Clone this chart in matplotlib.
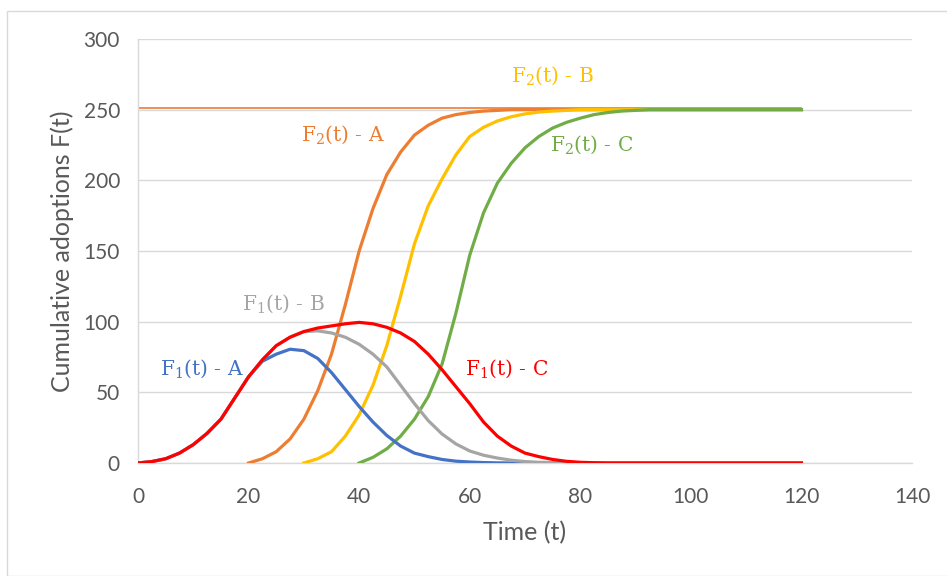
import matplotlib
matplotlib.use("Agg")
import matplotlib.pyplot as plt
import numpy as np
from matplotlib.patches import Rectangle

# ---- data ----
t = [0, 2.5, 5, 7.5, 10, 12.5, 15, 17.5, 20, 22.5, 25, 27.5, 30, 32.5, 35, 37.5, 40,
     42.5, 45, 47.5, 50, 52.5, 55, 57.5, 60, 62.5, 65, 67.5, 70, 72.5, 75, 77.5, 80,
     82.5, 85, 87.5, 90, 92.5, 95, 97.5, 100, 102.5, 105, 107.5, 110, 112.5, 115, 117.5, 120]
N = None
f1_a = ([0, 1, 3, 7, 13, 21, 31, 46, 61, 72, 77, 80.5, 79.5, 74, 64, 52, 40, 29, 19.5, 12,
         7, 4.5, 2.5, 1.3, 0.7, 0.3, 0.1] + [0] * 22)
f1_b = ([0, 1, 3, 7, 13, 21, 31, 46, 61, 73, 83, 89, 93, 93.5, 92, 89, 84, 77, 68, 55,
         42, 30, 20.5, 13.5, 8.5, 5.5, 3.5, 2, 1, 0.5, 0.3, 0.1] + [0] * 17)
f1_c = ([0, 1, 3, 7, 13, 21, 31, 46, 61, 73, 83, 89, 93, 95.5, 97, 98.5, 99.5, 98.5, 96, 92,
         86, 77, 66, 54, 42, 29, 19, 12, 7, 4.5, 2.5, 1.2, 0.5, 0.2, 0] + [0] * 14)
f2_a = ([N] * 8 + [0, 3, 8, 17, 31, 51, 77, 112, 150, 180, 204, 220, 232, 239, 244, 246.5,
                   248, 249, 249.5] + [250] * 22)
f2_b = ([N] * 12 + [0, 3, 8, 19, 34, 55, 83, 118, 155, 182, 201, 218, 231, 237.5, 242, 245,
                    247, 248.3, 249, 249.5] + [250] * 17)
f2_c = ([N] * 16 + [0, 4, 10, 19, 31, 47, 70, 106, 147, 177, 198, 212, 223, 231, 237, 241,
                    244, 246.5, 248, 249, 249.5] + [250] * 12)
m_line_t = [0, 120]
m_line_v = [251, 251]

x_ticks = [0, 20, 40, 60, 80, 100, 120, 140]
y_ticks = [0, 50, 100, 150, 200, 250, 300]

labels = ["F$_1$(t) - A", "F$_1$(t) - B", "F$_1$(t) - C",
          "F$_2$(t) - A", "F$_2$(t) - B", "F$_2$(t) - C"]
label_pos = [(11.6, 66.5), (26.2, 113), (66.6, 66.5), (37.1, 232), (74.9, 274), (82.1, 225)]

c_blue, c_gray, c_red = "#4472C4", "#A5A5A5", "#FF0000"
c_orange, c_gold, c_green = "#ED7D31", "#FFC000", "#70AD47"

plt.rcParams["mathtext.fontset"] = "custom"
plt.rcParams["mathtext.rm"] = "DejaVu Serif"
plt.rcParams["mathtext.it"] = "DejaVu Serif"
plt.rcParams["mathtext.default"] = "regular"


def arr(v):
    return np.array([np.nan if x is None else x for x in v], dtype=float)


W, H = 947, 576
fig = plt.figure(figsize=(W / 100, H / 100), dpi=100)
fig.patches.append(Rectangle((7 / W, 0), 1.2, 1 - 11 / H, transform=fig.transFigure,
                             fill=False, edgecolor="#D9D9D9", lw=1.0))
ax = fig.add_axes([138 / W, 1 - 463 / H, (912 - 138) / W, (463 - 39) / H])

ax.set_xlim(0, 140)
ax.set_ylim(0, 300)
ax.set_xticks(x_ticks)
ax.set_yticks(y_ticks)
ax.grid(axis="y", color="#D9D9D9", lw=1.0)
ax.set_axisbelow(True)
for s in ["top", "right"]:
    ax.spines[s].set_visible(False)
for s in ["left", "bottom"]:
    ax.spines[s].set_color("#D9D9D9")
    ax.spines[s].set_linewidth(1.0)
ax.tick_params(length=0, labelsize=15, colors="#595959")
ax.tick_params(axis="y", pad=13)
ax.tick_params(axis="x", pad=17)
for lab in ax.get_xticklabels() + ax.get_yticklabels():
    lab.set_family("Lato")

tt = np.array(t, dtype=float)
lw = 2.3
ax.plot(m_line_t, m_line_v, color=c_orange, lw=1.2, zorder=2)
ax.plot(tt, arr(f2_a), color=c_orange, lw=lw, zorder=3)
ax.plot(tt, arr(f2_b), color=c_gold, lw=lw, zorder=4)
ax.plot(tt, arr(f2_c), color=c_green, lw=lw, zorder=5)
ax.plot(tt, arr(f1_a), color=c_blue, lw=lw, zorder=6)
ax.plot(tt, arr(f1_b), color=c_gray, lw=lw, zorder=7)
ax.plot(tt, arr(f1_c), color=c_red, lw=lw, zorder=8)

colors = [c_blue, c_gray, c_red, c_orange, c_gold, c_green]
for lab, (x, y), c in zip(labels, label_pos, colors):
    ax.text(x, y, lab, color=c, fontsize=14.5, family="DejaVu Serif",
            ha="center", va="center", zorder=10)

ax.set_xlabel("Time (t)", fontsize=18, family="Lato", color="#595959", labelpad=10)
ax.set_ylabel("Cumulative adoptions F(t)", fontsize=18, family="Lato", color="#595959",
              labelpad=7)

fig.savefig("out.png", dpi=100)
